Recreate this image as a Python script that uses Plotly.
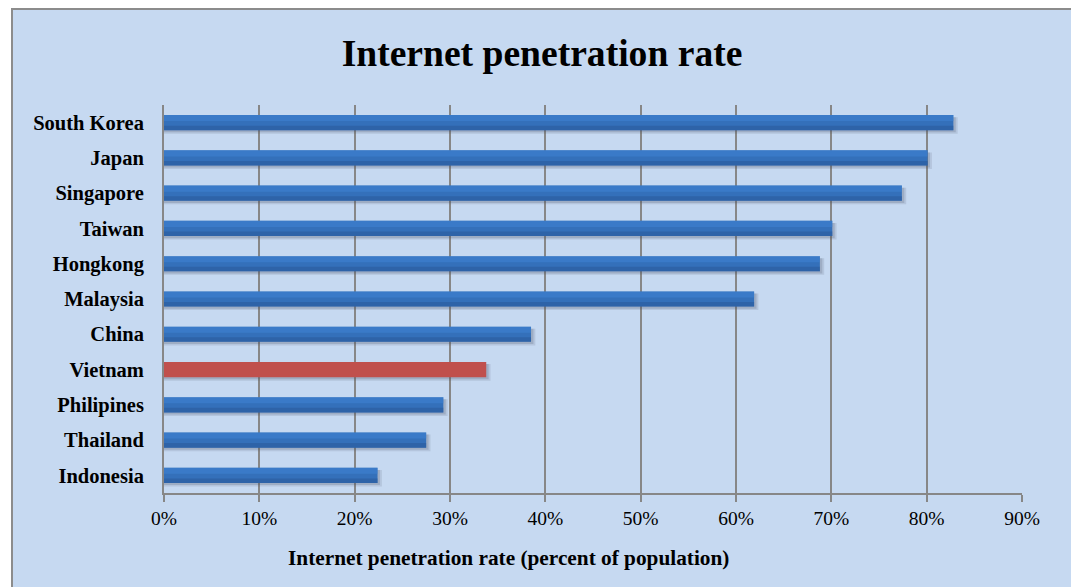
import plotly.graph_objects as go

countries = ["South Korea", "Japan", "Singapore", "Taiwan", "Hongkong", "Malaysia",
             "China", "Vietnam", "Philipines", "Thailand", "Indonesia"]
rates = [82.8, 80.1, 77.4, 70.1, 68.8, 61.9, 38.5, 33.8, 29.3, 27.5, 22.4]
highlight = "Vietnam"

BLUE = "#3470BA"
RED = "#C0504D"
GRID = "#878787"
BG = "#C6D9F1"
FONT = "Liberation Serif, Times New Roman, serif"

colors = [RED if c == highlight else BLUE for c in countries]
W = 0.43

fig = go.Figure()
# soft shadow (two layers for a blurred look)
fig.add_trace(go.Bar(
    y=countries, x=[r + 0.45 for r in rates], orientation="h",
    width=W + 0.04, offset=-W / 2 + 0.06,
    marker=dict(color="rgba(70,80,100,0.14)", line=dict(width=0)),
    hoverinfo="skip", showlegend=False,
))
fig.add_trace(go.Bar(
    y=countries, x=[r + 0.25 for r in rates], orientation="h",
    width=W, offset=-W / 2 + 0.06,
    marker=dict(color="rgba(70,80,100,0.2)", line=dict(width=0)),
    hoverinfo="skip", showlegend=False,
))
fig.add_trace(go.Bar(
    y=countries, x=rates, orientation="h",
    width=W, offset=-W / 2,
    marker=dict(color=colors, line=dict(width=0)),
    showlegend=False,
))
# lighter top band / darker bottom band for a gradient feel
fig.add_trace(go.Bar(
    y=countries, x=rates, orientation="h",
    width=W * 0.4, offset=-W / 2,
    marker=dict(color=["rgba(0,0,0,0)" if c == highlight else "rgba(64,132,212,0.55)" for c in countries],
                line=dict(width=0)),
    hoverinfo="skip", showlegend=False,
))
fig.add_trace(go.Bar(
    y=countries, x=rates, orientation="h",
    width=W * 0.3, offset=W / 2 - W * 0.3,
    marker=dict(color=["rgba(0,0,0,0)" if c == highlight else "rgba(40,85,150,0.5)" for c in countries],
                line=dict(width=0)),
    hoverinfo="skip", showlegend=False,
))

L, R, T, B = 164, 49, 105, 94
pw = 1071 - L - R
ph = 587 - T - B

def px_x(p):
    return (p - L) / pw

def px_y(p):
    return 1 - (p - T) / ph

fig.add_shape(type="rect", xref="paper", yref="paper",
              x0=px_x(12), x1=px_x(1100), y0=px_y(9), y1=px_y(610),
              fillcolor=BG, line=dict(color="#8C8C8C", width=2), layer="below")

fig.update_layout(
    width=1071, height=587,
    margin=dict(l=L, r=R, t=T, b=B),
    paper_bgcolor="white",
    plot_bgcolor="rgba(0,0,0,0)",
    barmode="overlay",
    font=dict(family=FONT, color="black"),
    title=dict(text="<b>Internet penetration rate</b>", x=542 / 1071, xref="container",
               xanchor="center", y=1 - 53 / 587, yref="container", yanchor="middle",
               font=dict(size=37.6, family=FONT, color="black")),
    xaxis=dict(range=[0, 90], dtick=10, ticksuffix="%",
               showgrid=True, gridcolor=GRID, gridwidth=2,
               showline=True, linecolor=GRID, linewidth=2,
               ticks="outside", ticklen=7, tickwidth=2, tickcolor=GRID,
               tickfont=dict(size=19.5, family=FONT, color="black"),
               zeroline=False, fixedrange=True),
    yaxis=dict(autorange="reversed", showline=True, linecolor=GRID, linewidth=2,
               showgrid=False, ticks="", ticklabelstandoff=14,
               tickfont=dict(size=20.5, family=FONT, color="black", weight="bold")),
)

fig.add_annotation(text="<b>Internet penetration rate (percent of population)</b>",
                   xref="paper", yref="paper", x=px_x(508), y=px_y(558),
                   xanchor="center", yanchor="middle", showarrow=False,
                   font=dict(size=21.3, family=FONT, color="black"))

fig.write_html("out.html", config={"displayModeBar": False},
               post_script="document.body.style.margin='0';document.body.style.overflow='hidden';")
